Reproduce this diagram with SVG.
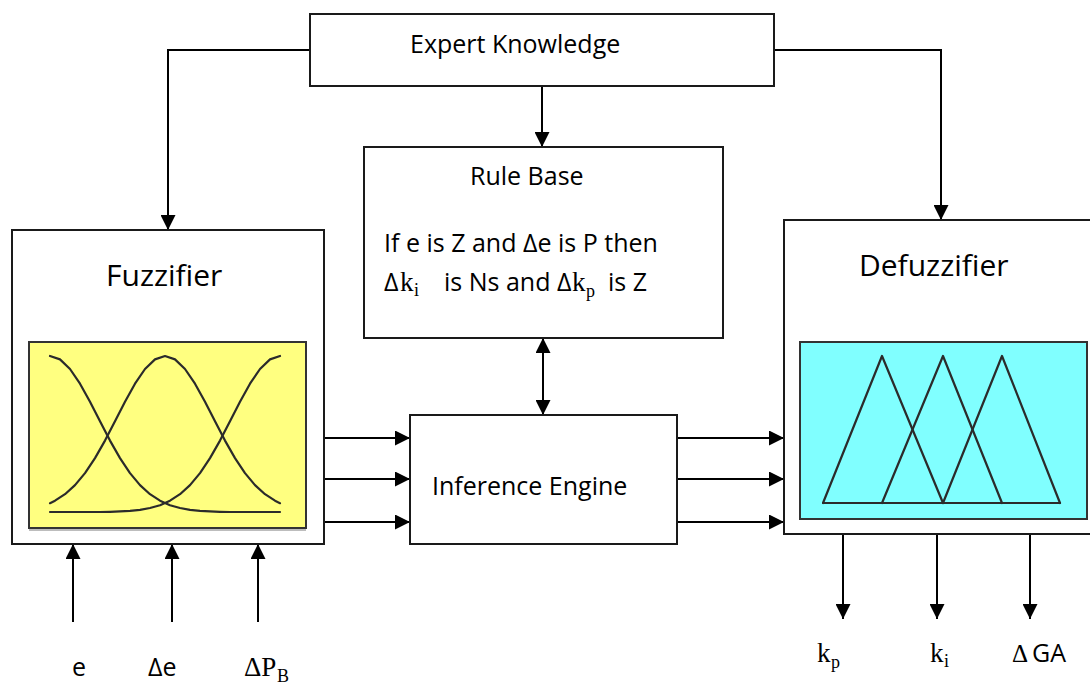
<svg xmlns="http://www.w3.org/2000/svg" width="1090" height="685" viewBox="0 0 1090 685">
  <style>
    .box { fill: #ffffff; stroke: #1a1a1a; stroke-width: 2; }
    .wire { fill: none; stroke: #000000; stroke-width: 2; }
    .mf { fill: none; stroke: #2b2b2b; stroke-width: 2.2; stroke-linejoin: round; stroke-linecap: round; }
    .lbl { font-family: "Open Sans", "Liberation Sans", sans-serif; font-size: 25px; fill: #000000; }
    .big { font-family: "Open Sans", "Liberation Sans", sans-serif; font-size: 30px; fill: #000000; }
    .math { font-family: "Liberation Serif", "DejaVu Serif", serif; fill: #000000; }
  </style>
  <defs>
    <marker id="arrow" markerUnits="userSpaceOnUse" markerWidth="15" markerHeight="15" refX="15" refY="7.5" orient="auto-start-reverse">
      <path d="M0,0 L15,7.5 L0,15 z" fill="#000000"/>
    </marker>
  </defs>

  <!-- connectors -->
  <g id="connectors">
    <path class="wire" d="M310,50 H168 V230" marker-end="url(#arrow)"/>
    <path class="wire" d="M774,50 H941 V220" marker-end="url(#arrow)"/>
    <path class="wire" d="M542,86 V147" marker-end="url(#arrow)"/>
    <path class="wire" d="M543,338 V415" marker-start="url(#arrow)" marker-end="url(#arrow)"/>
    <path class="wire" d="M324,438 H410" marker-end="url(#arrow)"/>
    <path class="wire" d="M324,479 H410" marker-end="url(#arrow)"/>
    <path class="wire" d="M324,522 H410" marker-end="url(#arrow)"/>
    <path class="wire" d="M677,438 H784" marker-end="url(#arrow)"/>
    <path class="wire" d="M677,479 H784" marker-end="url(#arrow)"/>
    <path class="wire" d="M677,522 H784" marker-end="url(#arrow)"/>
    <path class="wire" d="M73,622 V544" marker-end="url(#arrow)"/>
    <path class="wire" d="M172,622 V544" marker-end="url(#arrow)"/>
    <path class="wire" d="M258,622 V544" marker-end="url(#arrow)"/>
    <path class="wire" d="M843,534 V619" marker-end="url(#arrow)"/>
    <path class="wire" d="M937,534 V619" marker-end="url(#arrow)"/>
    <path class="wire" d="M1030,534 V619" marker-end="url(#arrow)"/>
  </g>

  <!-- expert knowledge -->
  <g id="expert">
    <rect class="box" x="310" y="14" width="464" height="72"/>
    <text class="lbl" x="410" y="53">Expert Knowledge</text>
  </g>

  <!-- rule base -->
  <g id="rulebase">
    <rect class="box" x="364" y="147" width="359" height="191"/>
    <text class="lbl" x="470" y="185">Rule Base</text>
    <text class="lbl" x="384" y="252">If e is Z and Δe is P then</text>
    <text class="lbl" x="384" y="291">Δ</text>
    <text class="math" x="400" y="291" font-size="27">k</text>
    <text class="math" x="414" y="296" font-size="18">i</text>
    <text class="lbl" x="444" y="291">is Ns and Δ</text>
    <text class="math" x="572" y="291" font-size="27">k</text>
    <text class="math" x="586" y="297" font-size="18">p</text>
    <text class="lbl" x="608" y="291">is Z</text>
  </g>

  <!-- inference engine -->
  <g id="inference">
    <rect class="box" x="410" y="415" width="267" height="129"/>
    <text class="lbl" x="432" y="495">Inference Engine</text>
  </g>

  <!-- fuzzifier with gaussian membership functions -->
  <g id="fuzzifier">
    <rect class="box" x="12" y="230" width="312" height="314"/>
    <text class="big" x="106" y="286">Fuzzifier</text>
    <rect x="29" y="529" width="277" height="2" fill="#bdbdbd"/>
    <rect x="29" y="342" width="277" height="186" fill="#ffff80" stroke="#333333" stroke-width="2"/>
    <path class="mf" d="M50,356 L60,359.4 L70,369 L80,383.7 L90,401.8 L100,421.3 L110,440.6 L120,458.1 L130,473.1 L140,485.1 L150,494.2 L160,500.7 L170,505.2 L180,508 L190,509.8 L200,510.8 L210,511.4 L220,511.8 L230,512 L280,512"/>
    <path class="mf" d="M50,503.2 L55,500.7 L65,494.2 L75,485.1 L85,473.1 L95,458.1 L105,440.6 L115,421.3 L125,401.8 L135,383.7 L145,369 L155,359.4 L165,356 L175,359.4 L185,369 L195,383.7 L205,401.8 L215,421.3 L225,440.6 L235,458.1 L245,473.1 L255,485.1 L265,494.2 L275,500.7 L280,503.2"/>
    <path class="mf" d="M280,356 L270,359.4 L260,369 L250,383.7 L240,401.8 L230,421.3 L220,440.6 L210,458.1 L200,473.1 L190,485.1 L180,494.2 L170,500.7 L160,505.2 L150,508 L140,509.8 L130,510.8 L120,511.4 L110,511.8 L100,512 L50,512"/>
  </g>

  <!-- defuzzifier with triangular membership functions -->
  <g id="defuzzifier">
    <rect class="box" x="784" y="220" width="310" height="314"/>
    <text class="big" x="859" y="276">Defuzzifier</text>
    <rect x="800" y="342" width="287" height="177" fill="#80ffff" stroke="#333333" stroke-width="2"/>
    <path class="mf" d="M823,503 L882,356 L943,503"/>
    <path class="mf" d="M882,503 L943,356 L1002,503"/>
    <path class="mf" d="M943,503 L1002,356 L1060,503"/>
    <path class="mf" d="M823,503 H1060"/>
  </g>

  <!-- input labels -->
  <g id="inputs">
    <text class="lbl" x="72" y="676">e</text>
    <text class="lbl" x="148" y="676">Δe</text>
    <text class="math" x="244" y="676" font-size="27">ΔP</text>
    <text class="math" x="277" y="682" font-size="18">B</text>
  </g>

  <!-- output labels -->
  <g id="outputs">
    <text class="math" x="817" y="662" font-size="27">k</text>
    <text class="math" x="831" y="668" font-size="18">p</text>
    <text class="math" x="930" y="662" font-size="27">k</text>
    <text class="math" x="944" y="667" font-size="18">i</text>
    <text class="math" x="1012" y="662" font-size="25">Δ</text>
    <text class="lbl" x="1032" y="662">GA</text>
  </g>
</svg>
